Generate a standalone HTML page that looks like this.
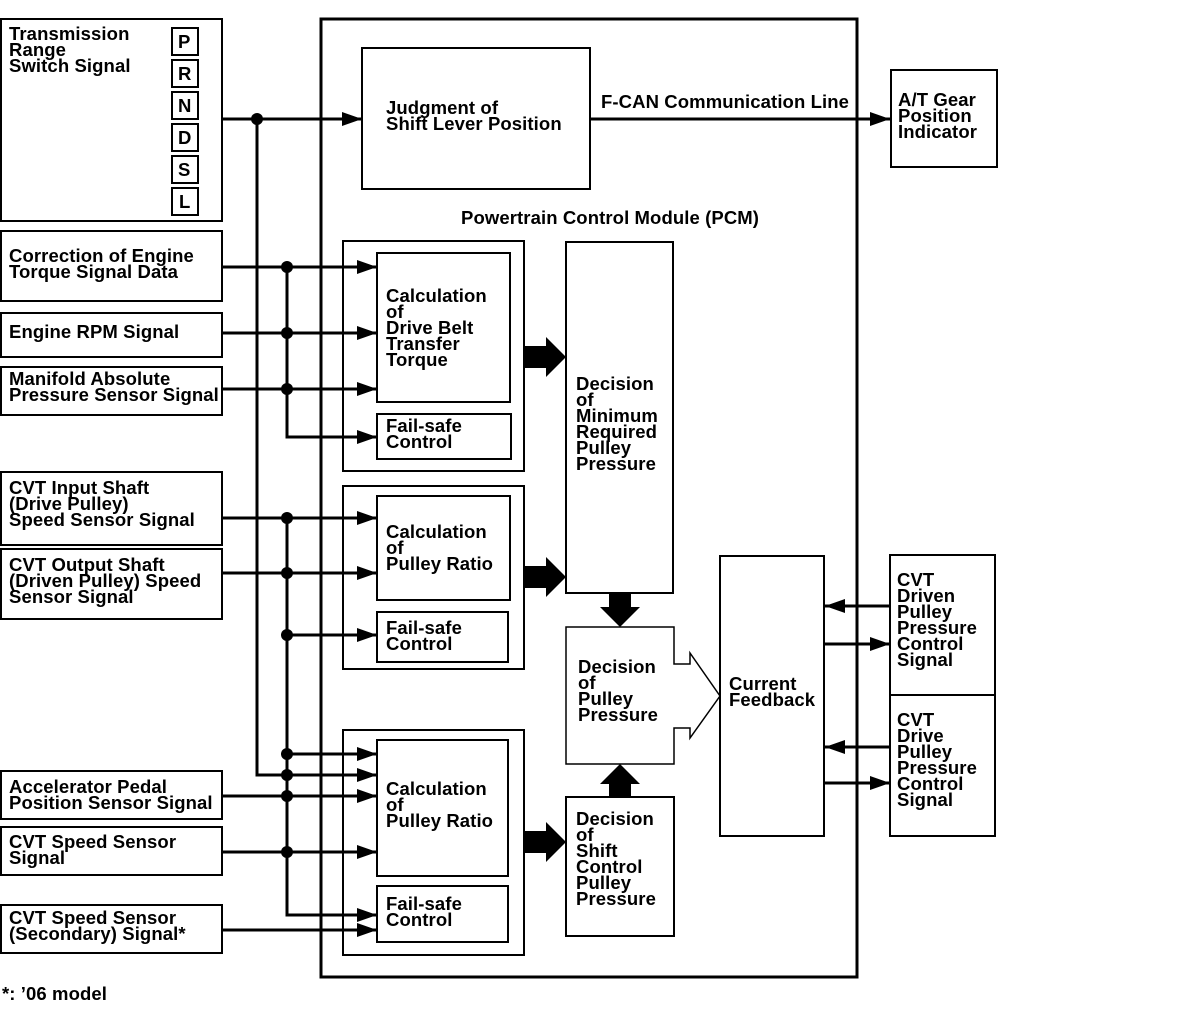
<!DOCTYPE html>
<html><head><meta charset="utf-8"><style>
html,body{margin:0;padding:0;background:#fff;}
svg{display:block}
text{font-family:"Liberation Sans",Arial,sans-serif;font-weight:bold;font-size:18.5px;fill:#000;letter-spacing:0.1px}
</style></head><body>
<svg width="1184" height="1024" viewBox="0 0 1184 1024" xmlns="http://www.w3.org/2000/svg">
<defs>
<marker id="a" markerWidth="22" markerHeight="16" refX="20" refY="8" orient="auto" markerUnits="userSpaceOnUse">
<path d="M0,1 L20,8 L0,15 Z" fill="#000"/></marker>
</defs>
<g fill="none" stroke="#000" stroke-width="2">
<rect x="1" y="19" width="221" height="202"/>
<rect x="1" y="231" width="221" height="70"/>
<rect x="1" y="313" width="221" height="44"/>
<rect x="1" y="367" width="221" height="48"/>
<rect x="1" y="472" width="221" height="73"/>
<rect x="1" y="549" width="221" height="70"/>
<rect x="1" y="771" width="221" height="48"/>
<rect x="1" y="827" width="221" height="48"/>
<rect x="1" y="905" width="221" height="48"/>
<rect x="172" y="28" width="26" height="27"/>
<rect x="172" y="60" width="26" height="27"/>
<rect x="172" y="92" width="26" height="27"/>
<rect x="172" y="124" width="26" height="27"/>
<rect x="172" y="156" width="26" height="27"/>
<rect x="172" y="188" width="26" height="27"/>
<rect x="321" y="19" width="536" height="958" stroke-width="3"/>
<rect x="362" y="48" width="228" height="141"/>
<rect x="891" y="70" width="106" height="97"/>
<rect x="343" y="241" width="181" height="230"/>
<rect x="377" y="253" width="133" height="149"/>
<rect x="377" y="414" width="134" height="45"/>
<rect x="343" y="486" width="181" height="183"/>
<rect x="377" y="496" width="133" height="104"/>
<rect x="377" y="612" width="131" height="50"/>
<rect x="343" y="730" width="181" height="225"/>
<rect x="377" y="740" width="131" height="136"/>
<rect x="377" y="886" width="131" height="56"/>
<rect x="566" y="242" width="107" height="351"/>
<rect x="566" y="797" width="108" height="139"/>
<rect x="720" y="556" width="104" height="280"/>
<rect x="890" y="555" width="105" height="140"/>
<rect x="890" y="695" width="105" height="141"/>
<path d="M566,627 H674 V664 H690 V653 L720,696 L690,738 V728 H674 V764 H566 Z" stroke-width="1.5"/>
</g>
<g fill="none" stroke="#000" stroke-width="3">
<path d="M222,119 H362" marker-end="url(#a)"/>
<path d="M590,119 H890" marker-end="url(#a)"/>
<path d="M257,119 V775 H377" marker-end="url(#a)"/>
<path d="M222,267 H377" marker-end="url(#a)"/>
<path d="M222,333 H377" marker-end="url(#a)"/>
<path d="M222,389 H377" marker-end="url(#a)"/>
<path d="M287,267 V437 H377" marker-end="url(#a)"/>
<path d="M222,518 H377" marker-end="url(#a)"/>
<path d="M222,573 H377" marker-end="url(#a)"/>
<path d="M287,635 H377" marker-end="url(#a)"/>
<path d="M287,754 H377" marker-end="url(#a)"/>
<path d="M222,796 H377" marker-end="url(#a)"/>
<path d="M222,852 H377" marker-end="url(#a)"/>
<path d="M287,518 V915 H377" marker-end="url(#a)"/>
<path d="M222,930 H377" marker-end="url(#a)"/>
<path d="M890,606 H825" marker-end="url(#a)"/>
<path d="M825,644 H890" marker-end="url(#a)"/>
<path d="M890,747 H825" marker-end="url(#a)"/>
<path d="M825,783 H890" marker-end="url(#a)"/>
</g>
<g fill="#000">
<circle cx="257" cy="119" r="6"/>
<circle cx="287" cy="267" r="6"/><circle cx="287" cy="333" r="6"/><circle cx="287" cy="389" r="6"/>
<circle cx="287" cy="518" r="6"/><circle cx="287" cy="573" r="6"/><circle cx="287" cy="635" r="6"/>
<circle cx="287" cy="754" r="6"/><circle cx="287" cy="775" r="6"/><circle cx="287" cy="796" r="6"/><circle cx="287" cy="852" r="6"/>
<path d="M524,346 H546 V337 L566,357 L546,377 V368 H524 Z"/>
<path d="M524,566 H546 V557 L566,577 L546,597 V588 H524 Z"/>
<path d="M524,831 H546 V822 L566,842 L546,862 V853 H524 Z"/>
<path d="M609,593 V607 H600 L620,627 L640,607 H631 V593 Z"/>
<path d="M609,797 V784 H600 L620,764 L640,784 H631 V797 Z"/>
</g>
<g>
<text x="9" y="40">Transmission</text><text x="9" y="56">Range</text><text x="9" y="72">Switch Signal</text>
<text x="178" y="48">P</text><text x="178" y="80">R</text><text x="178" y="112">N</text><text x="178" y="144">D</text><text x="178" y="176">S</text><text x="179" y="208">L</text>
<text x="9" y="262">Correction of Engine</text><text x="9" y="278">Torque Signal Data</text>
<text x="9" y="338">Engine RPM Signal</text>
<text x="9" y="385">Manifold Absolute</text><text x="9" y="401">Pressure Sensor Signal</text>
<text x="9" y="494">CVT Input Shaft</text><text x="9" y="510">(Drive Pulley)</text><text x="9" y="526">Speed Sensor Signal</text>
<text x="9" y="571">CVT Output Shaft</text><text x="9" y="587">(Driven Pulley) Speed</text><text x="9" y="603">Sensor Signal</text>
<text x="9" y="793">Accelerator Pedal</text><text x="9" y="809">Position Sensor Signal</text>
<text x="9" y="848">CVT Speed Sensor</text><text x="9" y="864">Signal</text>
<text x="9" y="924">CVT Speed Sensor</text><text x="9" y="940">(Secondary) Signal*</text>
<text x="386" y="114">Judgment of</text><text x="386" y="130">Shift Lever Position</text>
<text x="601" y="108">F-CAN Communication Line</text>
<text x="898" y="106">A/T Gear</text><text x="898" y="122">Position</text><text x="898" y="138">Indicator</text>
<text x="461" y="224">Powertrain Control Module (PCM)</text>
<text x="386" y="302">Calculation</text><text x="386" y="318">of</text><text x="386" y="334">Drive Belt</text><text x="386" y="350">Transfer</text><text x="386" y="366">Torque</text>
<text x="386" y="432">Fail-safe</text><text x="386" y="448">Control</text>
<text x="386" y="538">Calculation</text><text x="386" y="554">of</text><text x="386" y="570">Pulley Ratio</text>
<text x="386" y="634">Fail-safe</text><text x="386" y="650">Control</text>
<text x="386" y="795">Calculation</text><text x="386" y="811">of</text><text x="386" y="827">Pulley Ratio</text>
<text x="386" y="910">Fail-safe</text><text x="386" y="926">Control</text>
<text x="576" y="390">Decision</text><text x="576" y="406">of</text><text x="576" y="422">Minimum</text><text x="576" y="438">Required</text><text x="576" y="454">Pulley</text><text x="576" y="470">Pressure</text>
<text x="578" y="673">Decision</text><text x="578" y="689">of</text><text x="578" y="705">Pulley</text><text x="578" y="721">Pressure</text>
<text x="576" y="825">Decision</text><text x="576" y="841">of</text><text x="576" y="857">Shift</text><text x="576" y="873">Control</text><text x="576" y="889">Pulley</text><text x="576" y="905">Pressure</text>
<text x="729" y="690">Current</text><text x="729" y="706">Feedback</text>
<text x="897" y="586">CVT</text><text x="897" y="602">Driven</text><text x="897" y="618">Pulley</text><text x="897" y="634">Pressure</text><text x="897" y="650">Control</text><text x="897" y="666">Signal</text>
<text x="897" y="726">CVT</text><text x="897" y="742">Drive</text><text x="897" y="758">Pulley</text><text x="897" y="774">Pressure</text><text x="897" y="790">Control</text><text x="897" y="806">Signal</text>
<text x="2" y="1000">*: ’06 model</text>
</g>
</svg>
</body></html>
